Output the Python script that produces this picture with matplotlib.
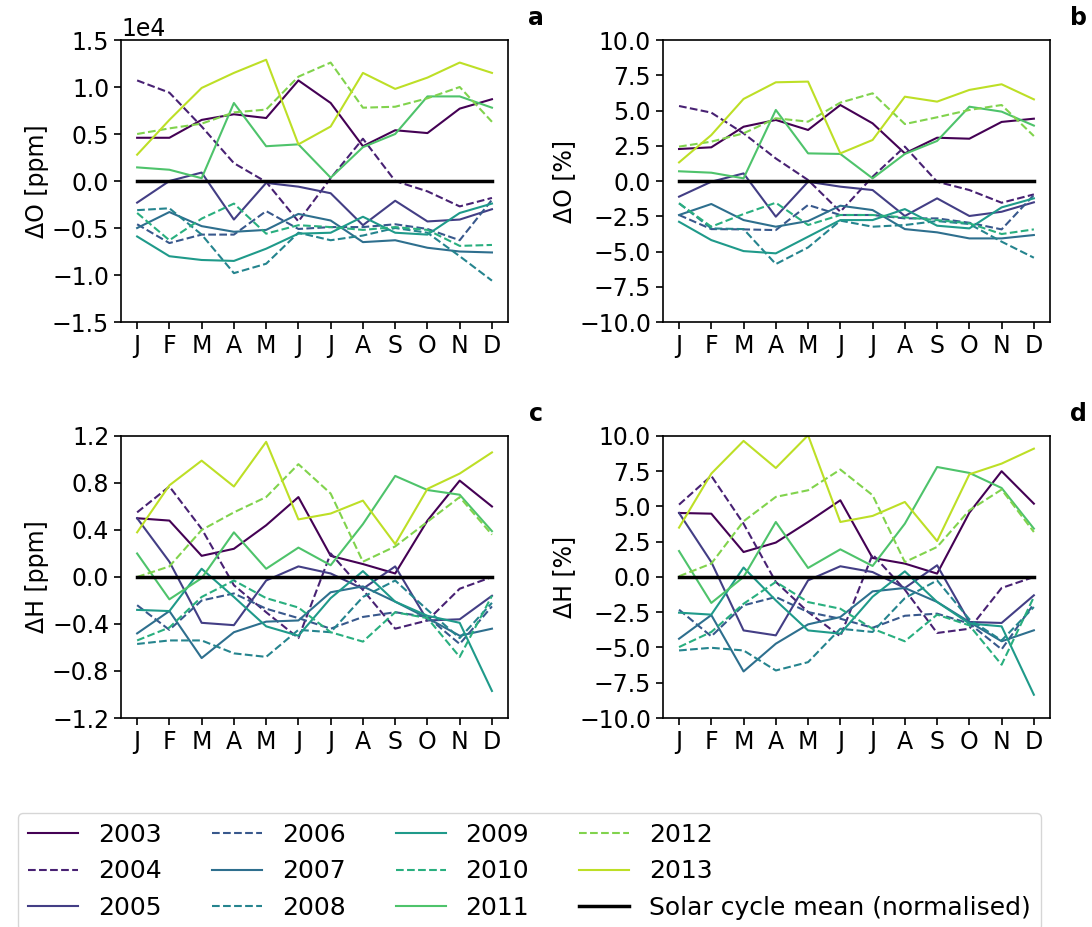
import numpy as np
import matplotlib
matplotlib.use("Agg")
import matplotlib.pyplot as plt

# Years, months and the monthly anomalies
YEARS = list(range(2003, 2014))
MONTHS = ['J', 'F', 'M', 'A', 'M', 'J', 'J', 'A', 'S', 'O', 'N', 'D']

# a: delta O in units of 1e4 ppm
o_ppm = [
    [0.46, 0.46, 0.65, 0.71, 0.67, 1.07, 0.83, 0.37, 0.54, 0.51, 0.77, 0.87],
    [1.07, 0.94, 0.58, 0.19, -0.01, -0.43, 0.03, 0.45, 0.0, -0.11, -0.27, -0.18],
    [-0.23, 0.0, 0.09, -0.41, -0.02, -0.06, -0.13, -0.47, -0.21, -0.43, -0.41, -0.30],
    [-0.46, -0.66, -0.57, -0.57, -0.32, -0.51, -0.49, -0.49, -0.46, -0.51, -0.63, -0.20],
    [-0.50, -0.33, -0.48, -0.54, -0.52, -0.35, -0.42, -0.65, -0.63, -0.71, -0.75, -0.76],
    [-0.31, -0.29, -0.57, -0.98, -0.88, -0.55, -0.63, -0.58, -0.50, -0.55, -0.80, -1.06],
    [-0.59, -0.80, -0.84, -0.85, -0.72, -0.56, -0.55, -0.38, -0.55, -0.57, -0.34, -0.24],
    [-0.34, -0.63, -0.40, -0.24, -0.56, -0.47, -0.49, -0.52, -0.49, -0.52, -0.69, -0.68],
    [0.145, 0.12, 0.03, 0.83, 0.37, 0.39, 0.035, 0.36, 0.50, 0.90, 0.90, 0.78],
    [0.50, 0.56, 0.61, 0.73, 0.76, 1.11, 1.26, 0.78, 0.79, 0.88, 1.00, 0.63],
    [0.28, 0.65, 0.99, 1.15, 1.29, 0.39, 0.58, 1.15, 0.98, 1.10, 1.26, 1.15],
]

# b: delta O in %
o_pct = [
    [2.27, 2.39, 3.85, 4.33, 3.62, 5.39, 4.09, 1.96, 3.07, 3.0, 4.19, 4.42],
    [5.32, 4.85, 3.38, 1.6, 0.07, -2.18, 0.3, 2.44, -0.05, -0.64, -1.54, -0.95],
    [-1.11, -0.05, 0.54, -2.53, -0.05, -0.40, -0.64, -2.48, -1.23, -2.48, -2.18, -1.51],
    [-2.41, -3.41, -3.43, -3.48, -1.70, -2.41, -2.41, -2.65, -2.65, -2.96, -3.43, -0.99],
    [-2.41, -1.63, -2.77, -3.24, -2.84, -1.75, -2.06, -3.41, -3.64, -4.07, -4.07, -3.83],
    [-1.58, -3.36, -3.41, -5.89, -4.71, -2.81, -3.24, -3.12, -2.84, -3.05, -4.30, -5.44],
    [-2.89, -4.19, -4.97, -5.13, -3.95, -2.77, -2.77, -1.99, -3.17, -3.36, -1.87, -1.23],
    [-1.58, -3.24, -2.34, -1.54, -3.12, -2.41, -2.41, -2.58, -2.77, -3.0, -3.76, -3.43],
    [0.69, 0.59, 0.19, 5.04, 1.96, 1.92, 0.19, 1.92, 2.84, 5.27, 4.92, 3.93],
    [2.44, 2.79, 3.38, 4.45, 4.21, 5.56, 6.22, 4.04, 4.52, 5.04, 5.39, 3.19],
    [1.32, 3.26, 5.82, 7.0, 7.05, 1.96, 2.91, 5.98, 5.63, 6.46, 6.86, 5.79],
]

# c: delta H in ppm
h_ppm = [
    [0.50, 0.48, 0.18, 0.24, 0.44, 0.68, 0.18, 0.11, 0.03, 0.48, 0.82, 0.60],
    [0.55, 0.77, 0.41, -0.07, -0.30, -0.52, 0.20, -0.11, -0.44, -0.37, -0.10, 0.0],
    [0.50, 0.13, -0.39, -0.41, -0.03, 0.09, 0.03, -0.10, 0.09, -0.37, -0.36, -0.16],
    [-0.24, -0.45, -0.20, -0.14, -0.27, -0.35, -0.44, -0.34, -0.30, -0.34, -0.57, -0.25],
    [-0.48, -0.29, -0.69, -0.47, -0.38, -0.37, -0.13, -0.08, -0.21, -0.35, -0.50, -0.44],
    [-0.57, -0.54, -0.54, -0.65, -0.68, -0.45, -0.47, -0.17, -0.03, -0.28, -0.52, -0.22],
    [-0.28, -0.29, 0.07, -0.17, -0.42, -0.50, -0.18, 0.05, -0.21, -0.33, -0.39, -0.97],
    [-0.54, -0.43, -0.17, -0.03, -0.18, -0.26, -0.47, -0.55, -0.30, -0.35, -0.68, -0.16],
    [0.20, -0.19, -0.01, 0.38, 0.07, 0.25, 0.10, 0.45, 0.86, 0.74, 0.70, 0.39],
    [0.0, 0.09, 0.40, 0.55, 0.68, 0.96, 0.71, 0.13, 0.26, 0.47, 0.68, 0.36],
    [0.38, 0.78, 0.99, 0.77, 1.15, 0.49, 0.54, 0.65, 0.28, 0.75, 0.88, 1.06],
]

# d: delta H in %
h_pct = [
    [4.54, 4.49, 1.77, 2.44, 3.90, 5.44, 1.35, 0.95, 0.24, 4.56, 7.5, 5.2],
    [5.13, 7.17, 3.78, -0.35, -2.48, -4.21, 1.6, -0.9, -3.97, -3.67, -0.78, 0.0],
    [4.54, 1.06, -3.79, -4.14, -0.24, 0.76, 0.35, -0.78, 0.83, -3.19, -3.26, -1.30],
    [-2.32, -4.21, -2.01, -1.42, -2.49, -2.96, -3.6, -2.75, -2.6, -3.3, -5.13, -1.9],
    [-4.38, -2.7, -6.70, -4.73, -3.36, -2.84, -1.02, -0.78, -1.77, -3.19, -4.56, -3.78],
    [-5.21, -5.02, -5.21, -6.63, -6.04, -3.67, -3.9, -1.5, -0.24, -3.0, -4.5, -2.13],
    [-2.53, -2.67, 0.67, -1.66, -3.79, -4.02, -1.4, 0.40, -1.77, -3.3, -3.5, -8.35],
    [-4.97, -3.9, -1.9, -0.35, -1.78, -2.25, -3.67, -4.56, -2.67, -3.43, -6.22, -1.42],
    [1.84, -1.84, 0.0, 3.9, 0.64, 1.96, 0.78, 3.78, 7.8, 7.38, 6.31, 3.43],
    [0.05, 0.95, 3.95, 5.68, 6.15, 7.62, 5.8, 1.06, 2.13, 4.73, 6.2, 3.19],
    [3.5, 7.33, 9.65, 7.73, 10.05, 3.9, 4.33, 5.32, 2.55, 7.28, 8.04, 9.1],
]

# solar cycle mean, normalised (flat zero line)
cycle_mean = [0.0] * 12

TICK_FS = 17
LABEL_FS = 17
LEGEND_FS = 18
colors = plt.cm.viridis(np.linspace(0, 0.9, len(YEARS)))
x = np.arange(12)

fig, axes = plt.subplots(2, 2, figsize=(10.92, 9.27), dpi=100)
fig.subplots_adjust(left=121 / 1092, right=1050 / 1092, top=1 - 40 / 927,
                    bottom=1 - 718 / 927, wspace=0.40, hspace=0.404)

panels = [
    (axes[0, 0], np.array(o_ppm) * 1e4, 'ΔO [ppm]', (-15000, 15000), np.arange(-15000, 15001, 5000), 'a'),
    (axes[0, 1], np.array(o_pct), 'ΔO [%]', (-10, 10), np.arange(-10, 10.1, 2.5), 'b'),
    (axes[1, 0], np.array(h_ppm), 'ΔH [ppm]', (-1.2, 1.2), np.arange(-1.2, 1.21, 0.4), 'c'),
    (axes[1, 1], np.array(h_pct), 'ΔH [%]', (-10, 10), np.arange(-10, 10.1, 2.5), 'd'),
]

for ax, data, ylabel, ylim, yticks, tag in panels:
    for i, year in enumerate(YEARS):
        ls = '-' if i % 2 == 0 else '--'
        ax.plot(x, data[i], color=colors[i], ls=ls, lw=1.5, label=str(year))
    ax.plot(x, cycle_mean, color='black', lw=2.5, label='Solar cycle mean (normalised)')
    ax.set_xlim(-0.5, 11.5)
    ax.set_ylim(*ylim)
    ax.set_yticks(yticks)
    ax.set_xticks(x)
    ax.set_xticklabels(MONTHS)
    ax.tick_params(labelsize=TICK_FS, width=1.2, length=5)
    ax.set_ylabel(ylabel, fontsize=LABEL_FS, labelpad=2)
    for sp in ax.spines.values():
        sp.set_linewidth(1.2)
    pos = ax.get_position()
    fig.text(pos.x1 + 28 / 1092, pos.y1 + 22 / 927, tag, fontsize=17,
             fontweight='bold', ha='center', va='center')

axes[0, 0].ticklabel_format(axis='y', style='sci', scilimits=(0, 0))
axes[0, 0].yaxis.get_offset_text().set_fontsize(TICK_FS)
axes[1, 0].set_yticklabels([f'{v:.1f}'.replace('-', '\u2212') for v in np.arange(-1.2, 1.21, 0.4)])

handles, labels = axes[0, 0].get_legend_handles_labels()
fig.legend(handles, labels, ncol=4, loc='upper left', fontsize=LEGEND_FS,
           bbox_to_anchor=(18 / 1092, 1 - 813 / 927), borderaxespad=0,
           columnspacing=2.0, handlelength=2.0)

fig.savefig('out.png', dpi=100)
